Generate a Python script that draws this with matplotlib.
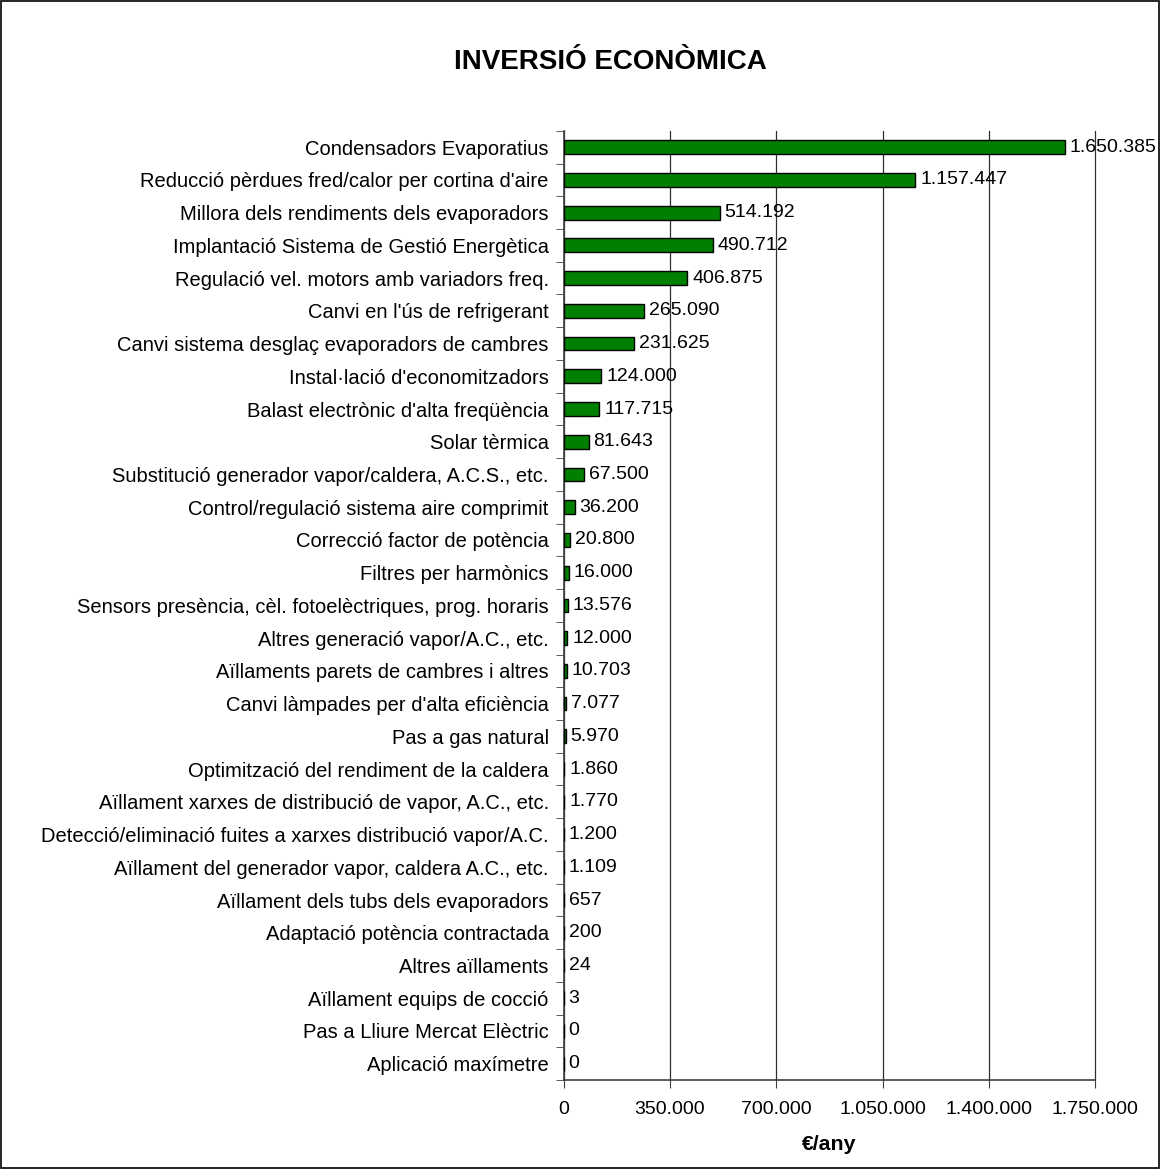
import matplotlib
matplotlib.use("Agg")
import matplotlib.pyplot as plt
from matplotlib.ticker import FuncFormatter
from matplotlib.patches import Rectangle

plt.rcParams['font.family'] = ['Liberation Sans', 'DejaVu Sans']

categories = [
    "Condensadors Evaporatius",
    "Reducció pèrdues fred/calor per cortina d'aire",
    "Millora dels rendiments dels evaporadors",
    "Implantació Sistema de Gestió Energètica",
    "Regulació vel. motors amb variadors freq.",
    "Canvi en l'ús de refrigerant",
    "Canvi sistema desglaç evaporadors de cambres",
    "Instal·lació d'economitzadors",
    "Balast electrònic d'alta freqüència",
    "Solar tèrmica",
    "Substitució generador vapor/caldera, A.C.S., etc.",
    "Control/regulació sistema aire comprimit",
    "Correcció factor de potència",
    "Filtres per harmònics",
    "Sensors presència, cèl. fotoelèctriques, prog. horaris",
    "Altres generació vapor/A.C., etc.",
    "Aïllaments parets de cambres i altres",
    "Canvi làmpades per d'alta eficiència",
    "Pas a gas natural",
    "Optimització del rendiment de la caldera",
    "Aïllament xarxes de distribució de vapor, A.C., etc.",
    "Detecció/eliminació fuites a xarxes distribució vapor/A.C.",
    "Aïllament del generador vapor, caldera A.C., etc.",
    "Aïllament dels tubs dels evaporadors",
    "Adaptació potència contractada",
    "Altres aïllaments",
    "Aïllament equips de cocció",
    "Pas a Lliure Mercat Elèctric",
    "Aplicació maxímetre",
]

values = [
    1650385, 1157447, 514192, 490712, 406875, 265090, 231625, 124000,
    117715, 81643, 67500, 36200, 20800, 16000, 13576, 12000, 10703,
    7077, 5970, 1860, 1770, 1200, 1109, 657, 200, 24, 3, 0, 0,
]

x_ticks = [0, 350000, 700000, 1050000, 1400000, 1750000]


def dotted(v):
    return f"{int(v):,}".replace(",", ".")


fig = plt.figure(figsize=(11.6, 11.69), dpi=100)
fig.patch.set_facecolor("white")
fig.patches.append(Rectangle((0.0005, 0.0005), 0.999, 0.999, transform=fig.transFigure,
                             fill=False, edgecolor="black", linewidth=1.2))

ax = fig.add_axes([0.486, 0.0761, 0.458, 0.812])
n = len(categories)
ypos = list(range(n))
ax.barh(ypos, values, height=0.42, color="#007F00", edgecolor="black", linewidth=1.0, zorder=3)

for y, v in zip(ypos, values):
    ax.annotate(dotted(v), xy=(v, y), xytext=(3.5, 0), textcoords="offset points",
                va="center", ha="left", fontsize=14, zorder=4, annotation_clip=False)

ax.set_ylim(n - 0.5, -0.5)
ax.set_xlim(0, 1750000)
ax.set_yticks(ypos)
ax.set_yticklabels(categories, fontsize=14.5)
ax.tick_params(axis="y", length=0, pad=10.8)
# tick marks between categories
ax.set_yticks([i + 0.5 for i in range(-1, n)], minor=True)
ax.tick_params(axis="y", which="minor", length=6, color="#404040", direction="out")

ax.set_xticks(x_ticks)
ax.xaxis.set_major_formatter(FuncFormatter(lambda v, p: dotted(v)))
ax.tick_params(axis="x", labelsize=14, length=6, color="#404040", pad=9)
ax.grid(axis="x", color="#303030", linewidth=0.9, zorder=0)
for gl in ax.get_xgridlines():
    gl.set_clip_on(False)

for s in ["top", "right"]:
    ax.spines[s].set_visible(False)
ax.spines["left"].set_color("#404040")
ax.spines["bottom"].set_color("#404040")
ax.spines["left"].set_linewidth(1.2)
ax.spines["bottom"].set_linewidth(1.2)

ax.set_xlabel("€/any", fontsize=15.3, fontweight="bold", labelpad=12)

fig.text(0.526, 0.947, "INVERSIÓ ECONÒMICA", ha="center", va="center", fontsize=20, fontweight="bold")

fig.savefig("out.png", dpi=100, facecolor="white")
